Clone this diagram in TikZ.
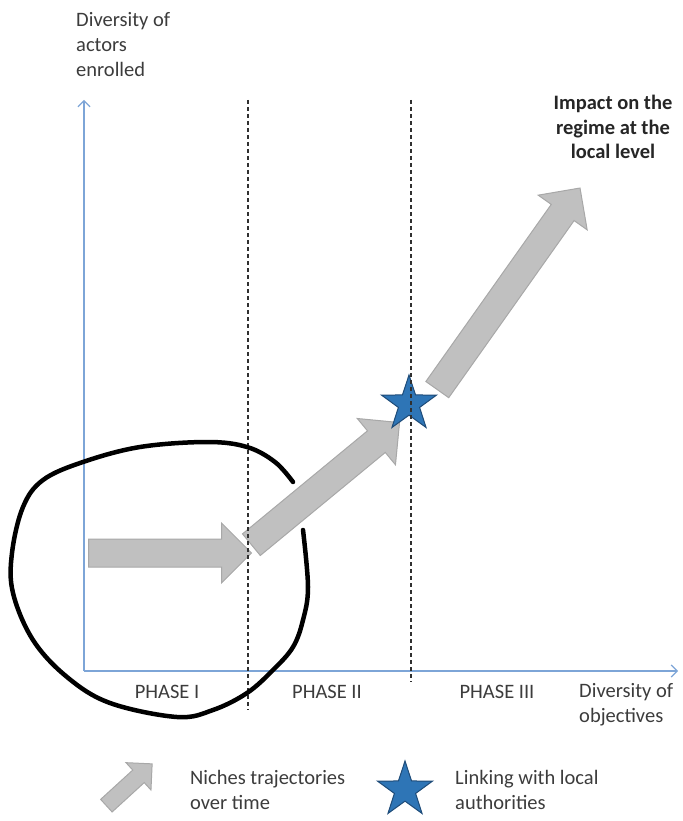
\documentclass[tikz,border=0pt]{standalone}
\usepackage{fontspec}
\setmainfont{Carlito}
\usetikzlibrary{shapes.arrows,shapes.geometric,arrows.meta}

\definecolor{axisblue}{RGB}{125,165,215}
\definecolor{trajfill}{RGB}{192,192,192}
\definecolor{trajline}{RGB}{168,168,168}
\definecolor{starfill}{RGB}{46,117,182}
\definecolor{starline}{RGB}{30,75,120}
\definecolor{txtgrey}{RGB}{60,60,60}

\begin{document}
\begin{tikzpicture}[x=1pt,y=-1pt,
    lbl/.style={inner sep=0pt,text=txtgrey,font=\fontsize{20.5}{25}\selectfont},
    traj/.style={single arrow,single arrow head extend=16pt,minimum width=0pt,anchor=tail,
                 inner xsep=0pt,inner ysep=13.5pt,fill=trajfill,draw=trajline,line width=1pt},
    link/.style={star,star points=5,star point ratio=2.6,minimum size=58pt,
                 inner sep=0pt,fill=starfill,draw=starline,line width=1pt}]
    \useasboundingbox (0,0) rectangle (682,821);

    % axes
    \coordinate (o)  at (84,671);
    \coordinate (yt) at (84,100);
    \coordinate (xt) at (678,671);
    \begin{scope}[every path/.style={draw=axisblue,line width=1.2pt,-{Straight Barb[length=6pt,width=12pt]}}]
       \draw (o) -- (yt);
       \draw (o) -- (xt);
    \end{scope}

    \node[lbl,anchor=west,align=left] (ylab) at (76,45) {Diversity of\\actors\\enrolled};
    \node[lbl,anchor=west,align=left] (xlab) at (579,705) {Diversity of\\objectives};

    % niche trajectories, placed by their tails
    \node[traj,minimum height=163pt] (t1) at (88,553) {};
    \node[traj,rotate=39.5,minimum height=192pt] (t2) at (251,545) {};
    \node[traj,rotate=54.7,minimum height=247pt] (t3) at (437,390) {};

    \node[link] (s1) at (409,404) {};

    % phases
    \coordinate (d1a) at (248,100);
    \coordinate (d1b) at (248,710);
    \coordinate (d2a) at (411,100);
    \coordinate (d2b) at (411,682);
    \begin{scope}[every path/.style={draw=txtgrey!80!black,line width=1.3pt,dash pattern=on 4pt off 3pt}]
       \draw (d1a) -- (d1b);
       \draw (d2a) -- (d2b);
    \end{scope}

    \node[lbl] (ph1) at (167,692) {PHASE I};
    \node[lbl] (ph2) at (327,692) {PHASE II};
    \node[lbl] (ph3) at (497,692) {PHASE III};

    \node[lbl,font=\bfseries\fontsize{20.5}{24.5}\selectfont,text=black!85,align=center]
        (imp) at (613,127) {Impact on the\\regime at the\\local level};

    % hand drawn ring round phase I
    \draw[line width=4.5pt,line cap=round,line join=round] plot[smooth,tension=0.6] coordinates {
        (293,482) (275,462) (247,447) (207,442) (140,447) (83,462) (43,480) (23,507)
        (12,553) (13,593) (33,640) (67,677) (110,703) (177,717) (213,710) (247,693)
        (273,670) (293,647) (303,620) (308,587) (303,530)};

    % legend
    \node[traj,rotate=42.4,minimum height=62pt,inner ysep=8pt,single arrow head extend=10pt] (l1) at (106,806) {};
    \node[lbl,anchor=west,align=left] (l1t) at (190,790) {Niches trajectories\\over time};
    \node[link] (l2) at (405,790) {};
    \node[lbl,anchor=west,align=left] (l2t) at (455,790) {Linking with local\\authorities};
\end{tikzpicture}
\end{document}
